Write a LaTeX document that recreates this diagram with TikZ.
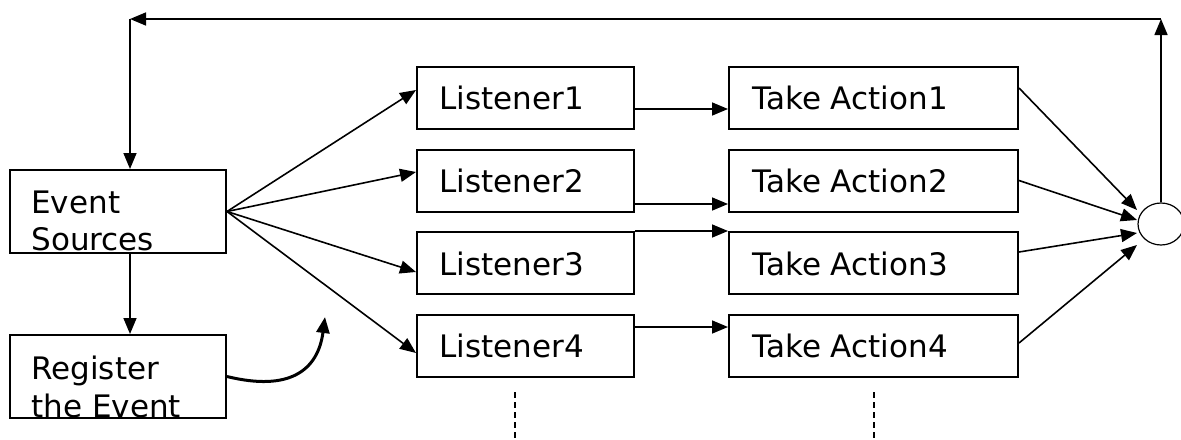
\documentclass[tikz,border=0pt]{standalone}
\usepackage{fontspec}
\setmainfont{DejaVu Sans}
\usetikzlibrary{arrows.meta,calc,shapes.geometric}
\begin{document}
\begin{tikzpicture}[x=0.5pt,y=-0.5pt,
  box/.style={draw, line width=1pt, inner sep=0pt},
  lbox/.style={box, minimum width=108.5pt, minimum height=31pt},
  abox/.style={box, minimum width=144.5pt, minimum height=31pt},
  sbox/.style={box, minimum width=108pt, minimum height=41.5pt},
  lbl/.style={anchor=base west, inner sep=0pt, font=\fontsize{15.5}{18.5}\selectfont},
  arr/.style={line width=0.8pt, -{Triangle[length=8pt,width=6.5pt]}},
  thickarr/.style={line width=1.5pt, -{Triangle[length=8pt,width=6.5pt]}},
  dashline/.style={line width=1pt, dash pattern=on 3pt off 2pt}]
\useasboundingbox (0,0) rectangle (1181,439);
% boxes
\node[sbox] (es) at (118,211.5) {};
\node[sbox] (reg) at (118,376.5) {};
\node[lbox] (l1) at (525.5,98) {};
\node[lbox] (l2) at (525.5,180.5) {};
\node[lbox] (l3) at (525.5,263) {};
\node[lbox] (l4) at (525.5,346) {};
\node[abox] (a1) at (873.5,98) {};
\node[abox] (a2) at (873.5,180.5) {};
\node[abox] (a3) at (873.5,263) {};
\node[abox] (a4) at (873.5,346) {};
\node[draw, ellipse, line width=0.6pt, inner sep=0pt, minimum width=23pt, minimum height=21pt] (c) at (1161,224) {};
% texts
\node[lbl] (est1) at (31,213) {Event};
\node[lbl] (est2) at (31,250) {Sources};
\node[lbl] (regt1) at (31,379) {Register};
\node[lbl] (regt2) at (31,417) {the Event};
\node[lbl] (l1t) at (439,109) {Listener1};
\node[lbl] (l2t) at (439,192.5) {Listener2};
\node[lbl] (l3t) at (439,275) {Listener3};
\node[lbl] (l4t) at (439,357) {Listener4};
\node[lbl] (a1t) at (752,109) {Take Action1};
\node[lbl] (a2t) at (752,192.5) {Take Action2};
\node[lbl] (a3t) at (752,275) {Take Action3};
\node[lbl] (a4t) at (752,357) {Take Action4};
% coordinates
\coordinate (tl) at (130,19);
\coordinate (tr) at (1161,19);
\coordinate (curveend) at (325,317);
\coordinate (d1a) at (515,392);
\coordinate (d1b) at (515,439);
\coordinate (d2a) at (874,392);
\coordinate (d2b) at (874,439);
% feedback loop
\draw[arr] (c.north) -- (tr);
\draw[arr] (tr) -- (tl);
\draw[arr] (tl) -- (es.north -| tl);
% event sources -> register
\draw[arr] (es.south -| tl) -- (reg.north -| tl);
% fan out
\draw[arr] (es.east) -- ($(l1.west)+(0,-8)$);
\draw[arr] (es.east) -- ($(l2.west)+(0,-8.5)$);
\draw[arr] (es.east) -- ($(l3.west)+(0,9)$);
\draw[arr] (es.east) -- ($(l4.west)+(0,7)$);
% listener -> action
\draw[arr] ($(l1.east)+(0,11)$) -- ($(a1.west)+(0,11)$);
\draw[arr] ($(l2.east)+(0,23.5)$) -- ($(a2.west)+(0,23.5)$);
\draw[arr] ($(l3.east)+(0,-32)$) -- ($(a3.west)+(0,-32)$);
\draw[arr] ($(l4.east)+(0,-19)$) -- ($(a4.west)+(0,-19)$);
% action -> circle
\draw[arr] ($(a1.east)+(0,-10)$) -- ($(c.center)+(-24,-14)$);
\draw[arr] (a2.east) -- ($(c.center)+(-24,-4)$);
\draw[arr] ($(a3.east)+(0,-11)$) -- ($(c.center)+(-24,9)$);
\draw[arr] ($(a4.east)+(0,-3)$) -- ($(c.center)+(-24,21)$);
% register curve
\draw[thickarr] (reg.east) .. controls (290,392) and (318,370) .. (curveend);
% dashed
\draw[dashline] (d1a) -- (d1b);
\draw[dashline] (d2a) -- (d2b);
\end{tikzpicture}
\end{document}
